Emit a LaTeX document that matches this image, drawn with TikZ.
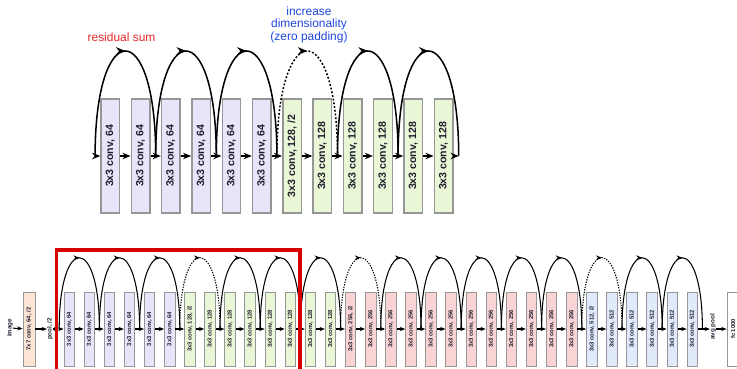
\documentclass[tikz,border=0pt]{standalone}
\usepackage{fontspec}
\setmainfont{Liberation Sans}
\usepackage{graphicx}
\usetikzlibrary{positioning,arrows.meta,decorations.markings}
\definecolor{resPurple}{RGB}{234,228,250}
\definecolor{resGreen}{RGB}{234,247,214}
\definecolor{resPink}{RGB}{250,212,212}
\definecolor{resBlue}{RGB}{224,234,250}
\definecolor{resPeach}{RGB}{252,229,212}
\definecolor{resEdge}{RGB}{150,150,150}
\definecolor{resText}{RGB}{30,30,45}
\definecolor{resRed}{RGB}{228,38,38}
\definecolor{resInk}{RGB}{30,70,220}
\definecolor{resFrame}{RGB}{214,0,0}

\tikzset{
  boxTop/.style={draw=resEdge, line width=1.2pt, minimum width=0.555cm, minimum height=3.42cm,
    inner sep=0pt, text=resText, font=\fontsize{9}{9}\selectfont\bfseries},
  boxBot/.style={draw=resEdge, line width=0.8pt, minimum width=0.315cm, minimum height=2.22cm,
    inner sep=0pt, text=resText, font=\fontsize{5}{5}\selectfont\bfseries},
  tagBot/.style={inner sep=0pt, text=resText, font=\fontsize{5.3}{5.3}\selectfont\bfseries},
  flowTop/.style={-{Stealth[length=7pt,width=5.5pt]}, line width=1.3pt},
  flowBot/.style={-{Stealth[length=4.5pt,width=3.6pt]}, line width=0.9pt},
  skipTop/.style={line width=1.3pt, postaction={decorate},
    decoration={markings, mark=at position 0.5 with {\arrow{Stealth[length=8pt,width=6.5pt]}}}},
  padTop/.style={skipTop, dash pattern=on 1.6pt off 1.6pt},
  skipBot/.style={line width=0.9pt, postaction={decorate},
    decoration={markings, mark=at position 0.5 with {\arrow{Stealth[length=5pt,width=4pt]}}}},
  padBot/.style={skipBot, dash pattern=on 1.1pt off 1.1pt}
}

\begin{document}
\begin{tikzpicture}[x=0.03cm, y=-0.03cm]
  \clip (0,0) rectangle (737,368);

  % zoomed-in part (top)
  \node[text=resRed, font=\fontsize{10.2}{12}\selectfont] (sumtag) at (121.5,37) {residual sum};
  \node[text=resInk, align=center, font=\fontsize{10.2}{10.7}\selectfont] (padtag) at (309,24.5)
    {increase\\dimensionality\\(zero padding)};

  \foreach \i in {1,...,12}{
    \ifnum\i<7 \def\ch{64}\def\col{resPurple}\else \def\ch{128}\def\col{resGreen}\fi
    \def\sfx{}
    \ifnum\i=7 \def\sfx{, /2}\fi
    \node[boxTop, fill=\col] (t\i) at ({110.25+(\i-1)*30.3},156) {\rotatebox{90}{3x3 conv, \ch\sfx}};
  }
  \foreach \i in {0,...,12}
    \coordinate (tg\i) at ({95.1+\i*30.3},156);

  \draw[flowTop] (tg0) -- (t1);
  \foreach \i [count=\j from 2] in {1,...,11}
    \draw[flowTop] (t\i) -- (t\j);
  \draw[flowTop] (t12) -- (tg12);

  \foreach \k in {0,...,5}{
    \pgfmathtruncatemacro\ka{2*\k}
    \pgfmathtruncatemacro\kb{2*\k+2}
    \def\sty{skipTop}
    \ifnum\k=3 \def\sty{padTop}\fi
    \draw[\sty] (tg\ka) .. controls +(0,-140) and +(0,-140) .. (tg\kb);
  }

  % full network (bottom)
  \node[tagBot] (img) at (10,328) {\rotatebox{90}{image}};
  \node[boxBot, fill=resPeach, minimum width=0.36cm] (c7) at (29,329) {\rotatebox{90}{7x7 conv, 64, /2}};
  \node[tagBot] (pool) at (50,329) {\rotatebox{90}{pool, /2}};

  \foreach \i in {1,...,32}{
    \ifnum\i<7 \def\ch{64}\def\col{resPurple}\else
     \ifnum\i<15 \def\ch{128}\def\col{resGreen}\else
      \ifnum\i<27 \def\ch{256}\def\col{resPink}\else
       \def\ch{512}\def\col{resBlue}\fi\fi\fi
    \def\sfx{}
    \ifnum\i=7 \def\sfx{, /2}\fi
    \ifnum\i=15 \def\sfx{, /2}\fi
    \ifnum\i=27 \def\sfx{, /2}\fi
    \node[boxBot, fill=\col] (b\i) at ({69.25+(\i-1)*20.1},329) {\rotatebox{90}{3x3 conv, \ch\sfx}};
  }
  \foreach \i in {0,...,32}
    \coordinate (bg\i) at ({59.2+\i*20.1},329);

  \node[tagBot] (avgpool) at (713,327) {\rotatebox{90}{avg pool}};
  \node[boxBot, fill=white, minimum width=0.36cm] (fc) at (733,329) {\rotatebox{90}{fc 1000}};

  \draw[flowBot] (img) -- (c7);
  \draw[flowBot] (c7) -- (pool);
  \draw[flowBot] (pool) -- (bg0);
  \draw[flowBot] (bg0) -- (b1);
  \foreach \i [count=\j from 2] in {1,...,31}
    \draw[flowBot] (b\i) -- (b\j);
  \draw[flowBot] (b32) -- (b32 -| avgpool.west);
  \draw[flowBot] (avgpool.east |- fc) -- (fc);

  \foreach \k in {0,...,15}{
    \pgfmathtruncatemacro\ka{2*\k}
    \pgfmathtruncatemacro\kb{2*\k+2}
    \def\sty{skipBot}
    \ifnum\k=3 \def\sty{padBot}\fi
    \ifnum\k=7 \def\sty{padBot}\fi
    \ifnum\k=13 \def\sty{padBot}\fi
    \draw[\sty] (bg\ka) .. controls +(0,-95) and +(0,-95) .. (bg\kb);
  }

  \draw[resFrame, line width=2.6pt] (56.5,250) rectangle (300,400);
\end{tikzpicture}
\end{document}
